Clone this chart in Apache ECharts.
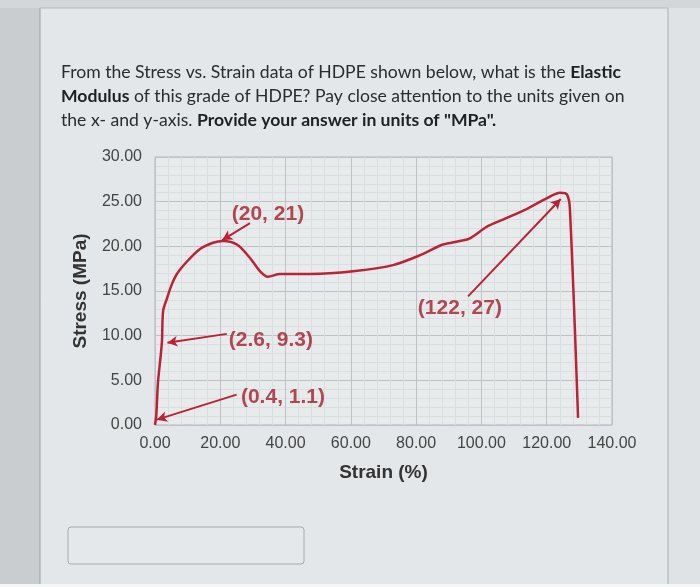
<!DOCTYPE html>
<html>
<head>
<meta charset="utf-8">
<script src="https://cdn.jsdelivr.net/npm/echarts@6/dist/echarts.min.js"></script>
<style>
  html, body { margin: 0; padding: 0; background: #e3e7e9; }
  #chart { width: 700px; height: 587px; }
</style>
</head>
<body>
<div id="chart"></div>
<script>
// stress-strain curve: [strain %, stress MPa]
var curve = [
  [0, 0], [0.4, 1.1], [0.9, 4.7], [2.1, 9.2], [2.5, 12.8], [3.7, 14.2],
  [5.0, 15.6], [6.7, 16.9], [9.8, 18.3], [13.8, 19.7], [17.8, 20.4],
  [20.8, 20.6], [25.1, 20.2], [29.1, 18.7], [32.2, 17.2], [34.6, 16.6],
  [38.3, 16.9], [47.5, 16.9], [60.7, 17.2], [72.9, 17.9], [81.8, 19.1],
  [88.2, 20.2], [93.4, 20.6], [96.5, 20.9], [101.7, 22.2], [106.6, 23.0],
  [114.0, 24.2], [120.1, 25.4], [124.1, 26.0], [126.2, 25.8], [127.1, 24.2],
  [129.6, 0.8]
];

// annotation labels: [x, y, text]
var notes = [
  [34.6, 23.6, '(20, 21)'],
  [93.4, 13.1, '(122, 27)'],
  [35.5, 9.5, '(2.6, 9.3)'],
  [39.2, 3.1, '(0.4, 1.1)']
];

// annotation arrows: [fromX, fromY, toX, toY]
var arrows = [
  [29.1, 22.6, 20.6, 20.7],
  [95.9, 14.4, 124.3, 25.3],
  [22.0, 10.2, 3.8, 9.2],
  [25.0, 3.4, 0.6, 0.6]
];

var xMax = 140, xStep = 20;
var yMax = 30, yStep = 5;

var red = '#bb2236';

var myChart = echarts.init(document.getElementById('chart'));

var option = {
  backgroundColor: '#e3e7e9',
  animation: false,
  title: {
    left: 56,
    top: 55,
    text: 'From the Stress vs. Strain data of HDPE shown below, what is the {b|Elastic}\n' +
          '{b|Modulus} of this grade of HDPE? Pay close attention to the units given on\n' +
          'the x- and y-axis. {b|Provide your answer in units of "MPa".}',
    textStyle: {
      fontFamily: 'Lato',
      fontSize: 17.6,
      fontWeight: 'normal',
      color: '#2a2c2e',
      lineHeight: 24,
      rich: {
        b: { fontFamily: 'Lato', fontSize: 17.6, fontWeight: 'bold', color: '#1e2022', lineHeight: 24 }
      }
    }
  },
  graphic: [
    { type: 'rect', shape: { x: 0, y: 0, width: 40, height: 587 }, style: { fill: '#c9cdd0' }, z: -10 },
    { type: 'rect', shape: { x: 668, y: 0, width: 32, height: 587 }, style: { fill: '#dfe3e5' }, z: -10 },
    { type: 'rect', shape: { x: 0, y: 0, width: 700, height: 8 }, style: { fill: '#d3d7da' }, z: -10 },
    { type: 'line', shape: { x1: 40, y1: 8, x2: 40, y2: 587 }, style: { stroke: '#9aa0a4', lineWidth: 1 } },
    { type: 'line', shape: { x1: 668, y1: 8, x2: 668, y2: 587 }, style: { stroke: '#a9afb3', lineWidth: 1 } },
    { type: 'line', shape: { x1: 40, y1: 8, x2: 668, y2: 8 }, style: { stroke: '#b2b8bb', lineWidth: 1 } },
    { type: 'rect', shape: { x: 0, y: 584, width: 700, height: 3 }, style: { fill: '#f4f6f7' } },
    { type: 'rect', shape: { x: 68, y: 527, width: 236, height: 37, r: 3 },
      style: { fill: 'rgba(255,255,255,0.08)', stroke: '#a3aaad', lineWidth: 1 } }
  ],
  grid: {
    left: 155,
    right: 88,
    top: 157,
    bottom: 162,
    show: true,
    backgroundColor: '#e8ebec',
    borderColor: '#b3b9bd',
    borderWidth: 1
  },
  xAxis: {
    type: 'value',
    min: 0,
    max: xMax,
    interval: xStep,
    name: 'Strain (%)',
    nameLocation: 'middle',
    nameGap: 38,
    nameTextStyle: { fontFamily: 'Liberation Sans', fontSize: 19, fontWeight: 'bold', color: '#333' },
    axisLine: { show: false },
    axisTick: { show: false },
    axisLabel: {
      margin: 11,
      fontFamily: 'Liberation Sans',
      fontSize: 16,
      color: '#444',
      formatter: function (v) { return v.toFixed(2); }
    },
    splitLine: { lineStyle: { color: '#bcc2c6', width: 1 } },
    minorTick: { show: false, splitNumber: 5 },
    minorSplitLine: { show: true, lineStyle: { color: '#d9dee1', width: 1 } }
  },
  yAxis: {
    type: 'value',
    min: 0,
    max: yMax,
    interval: yStep,
    name: 'Stress (MPa)',
    nameLocation: 'middle',
    nameGap: 65,
    nameTextStyle: { fontFamily: 'Liberation Sans', fontSize: 19, fontWeight: 'bold', color: '#333' },
    axisLine: { show: false },
    axisTick: { show: false },
    axisLabel: {
      margin: 13,
      fontFamily: 'Liberation Sans',
      fontSize: 16,
      color: '#444',
      formatter: function (v) { return v.toFixed(2); }
    },
    splitLine: { lineStyle: { color: '#bcc2c6', width: 1 } },
    minorTick: { show: false, splitNumber: 5 },
    minorSplitLine: { show: true, lineStyle: { color: '#d9dee1', width: 1 } }
  },
  series: [
    {
      type: 'line',
      data: curve,
      smooth: 0.3,
      showSymbol: false,
      lineStyle: { color: red, width: 2.5 },
      markLine: {
        silent: true,
        symbol: ['none', 'arrow'],
        symbolSize: [8, 10],
        label: { show: false },
        lineStyle: { color: red, width: 2, type: 'solid' },
        data: arrows.map(function (a) {
          return [{ coord: [a[0], a[1]] }, { coord: [a[2], a[3]] }];
        })
      }
    },
    {
      type: 'scatter',
      data: notes,
      symbolSize: 0,
      silent: true,
      label: {
        show: true,
        position: 'inside',
        formatter: function (p) { return p.data[2]; },
        fontFamily: 'Liberation Sans',
        fontSize: 21,
        fontWeight: 'bold',
        color: '#a51d2d'
      }
    }
  ]
};

myChart.setOption(option);
window.onresize = function () {
  myChart.resize();
};
</script>
</body>
</html>
